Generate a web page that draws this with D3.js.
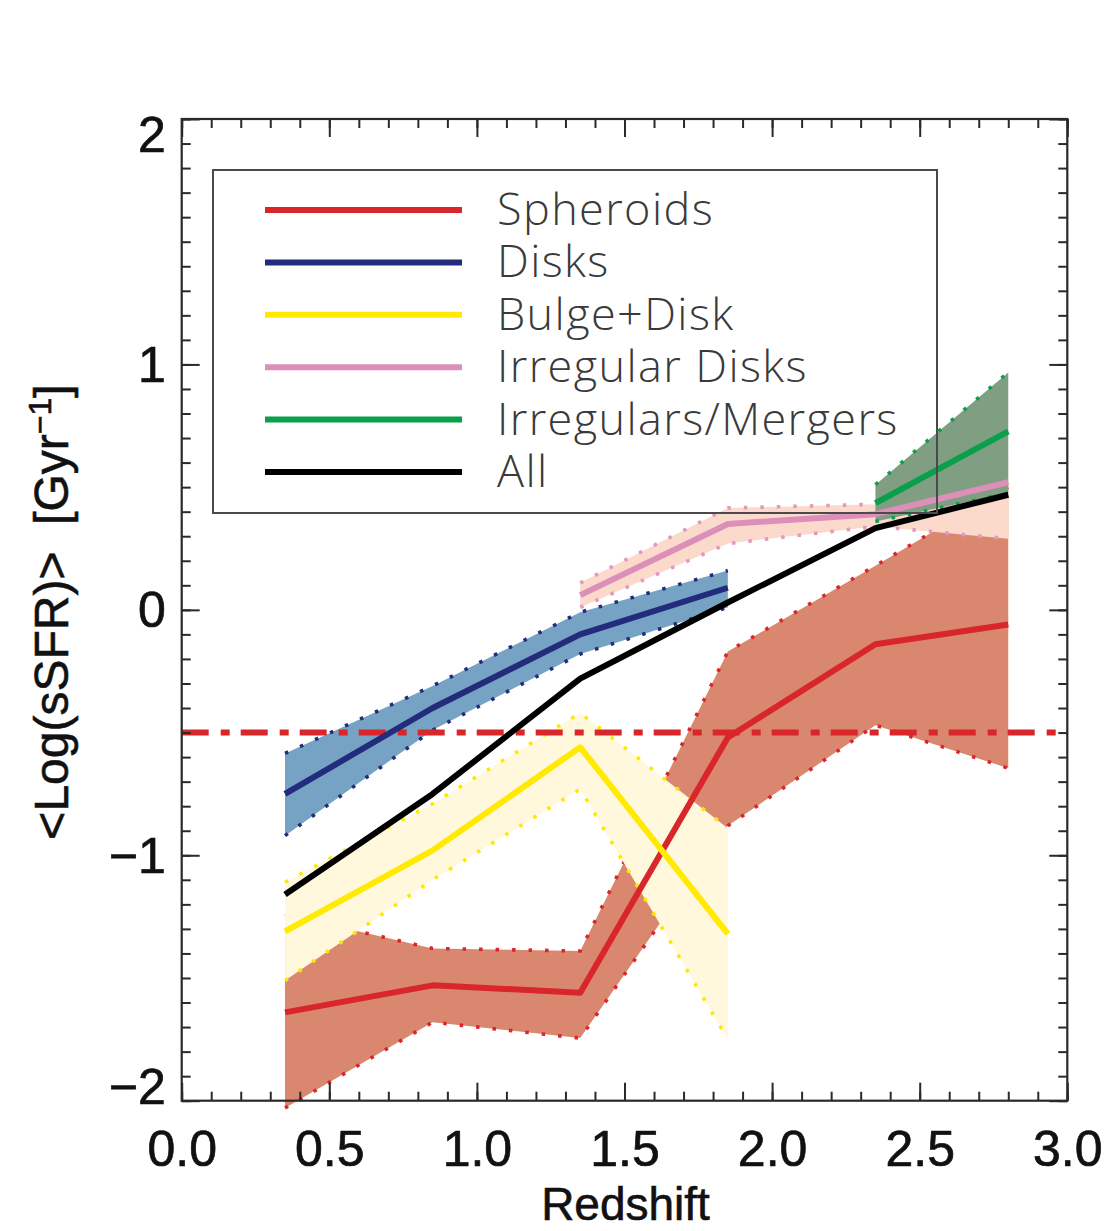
<!DOCTYPE html>
<html>
<head>
<meta charset="utf-8">
<script src="https://cdn.jsdelivr.net/npm/d3@7/dist/d3.min.js"></script>
<style>
  body { margin: 0; background: #ffffff; }
  svg { display: block; }
</style>
</head>
<body>
<svg id="chart" width="1107" height="1231"></svg>
<script>
// Redshift bins (bin centres) shared by all morphological classes
const redshift = [0.35, 0.85, 1.35, 1.85, 2.35, 2.8];

// Spheroids: mean <Log(sSFR)> and the upper / lower envelope
const spheroidsMean = [-1.64, -1.53, -1.56, -0.52, -0.14, -0.06];
const spheroidsHigh = [-1.24, -1.38, -1.39, -0.17, 0.18, 0.50];
const spheroidsLow  = [-2.03, -1.68, -1.745, -0.88, -0.47, -0.645];

// Disks (first four bins)
const disksMean = [-0.75, -0.40, -0.10, 0.09];
const disksHigh = [-0.585, -0.31, -0.01, 0.16];
const disksLow  = [-0.92, -0.49, -0.18, 0.01];

// Bulge+Disk (first four bins)
const bulgeDiskMean = [-1.31, -0.98, -0.56, -1.32];
const bulgeDiskHigh = [-1.11, -0.79, -0.42, -0.89];
const bulgeDiskLow  = [-1.51, -1.10, -0.73, -1.75];

// Irregular Disks (last four bins)
const irrDisksMean = [0.06, 0.35, 0.39, 0.52];
const irrDisksHigh = [0.11, 0.415, 0.43, 0.62];
const irrDisksLow  = [0.01, 0.27, 0.34, 0.29];

// Irregulars/Mergers (last two bins)
const mergersMean = [0.435, 0.727];
const mergersHigh = [0.51, 0.967];
const mergersLow  = [0.36, 0.475];

// Whole sample
const allMean = [-1.16, -0.75, -0.28, 0.03, 0.333, 0.469];

// Quiescence threshold drawn as a dash-dot line
const sfrThreshold = -0.5;

// Axis ticks and labels
const xTicks = [0, 0.5, 1, 1.5, 2, 2.5, 3];
const xTickLabels = ["0.0", "0.5", "1.0", "1.5", "2.0", "2.5", "3.0"];
const yTicks = [-2, -1, 0, 1, 2];
const yTickLabels = ["\u22122", "\u22121", "0", "1", "2"];

const legendNames = ["Spheroids", "Disks", "Bulge+Disk", "Irregular Disks", "Irregulars/Mergers", "All"];

// ---------------------------------------------------------------
const svg = d3.select("#chart");
const plot = { left: 181.7, right: 1067.3, top: 119, bottom: 1100.7 };

const x = d3.scaleLinear().domain([0, 3]).range([plot.left, plot.right]);
const y = d3.scaleLinear().domain([-2, 2]).range([plot.bottom, plot.top]);

const zip = (zs, a, b, c) => zs.map((z, i) => ({ z, mean: a[i], hi: b ? b[i] : null, lo: c ? c[i] : null }));

const series = [
  { name: legendNames[0], rows: zip(redshift, spheroidsMean, spheroidsHigh, spheroidsLow),
    line: "#d8262b", fill: "#da8770", dots: "#d8262b" },
  { name: legendNames[1], rows: zip(redshift.slice(0, 4), disksMean, disksHigh, disksLow),
    line: "#232c7c", fill: "#76a3c4", dots: "#232c7c" },
  { name: legendNames[2], rows: zip(redshift.slice(0, 4), bulgeDiskMean, bulgeDiskHigh, bulgeDiskLow),
    line: "#ffea00", fill: "#fff8dc", dots: "#ffe800" },
  { name: legendNames[3], rows: zip(redshift.slice(2), irrDisksMean, irrDisksHigh, irrDisksLow),
    line: "#dc8fb8", fill: "#fbdacb", dots: "#e09ac0" },
  { name: legendNames[4], rows: zip(redshift.slice(4), mergersMean, mergersHigh, mergersLow),
    line: "#0a9f4a", fill: "#7f9e82", dots: "#0a9f4a" },
  { name: legendNames[5], rows: zip(redshift, allMean),
    line: "#000000", fill: null, dots: null }
];

const area = d3.area().x(d => x(d.z)).y0(d => y(d.lo)).y1(d => y(d.hi));
const meanLine = d3.line().x(d => x(d.z)).y(d => y(d.mean));
const hiLine = d3.line().x(d => x(d.z)).y(d => y(d.hi));
const loLine = d3.line().x(d => x(d.z)).y(d => y(d.lo));

// Envelopes: filled band with dotted upper and lower edges, in legend order
const bands = svg.append("g").attr("class", "bands");
series.filter(s => s.fill).forEach(s => {
  const g = bands.append("g");
  g.append("path").datum(s.rows).attr("d", area).attr("fill", s.fill).attr("stroke", "none");
  [hiLine, loLine].forEach(gen => {
    g.append("path").datum(s.rows).attr("d", gen)
      .attr("fill", "none").attr("stroke", s.dots)
      .attr("stroke-width", 3.6).attr("stroke-dasharray", "3.5 13");
  });
});

// Threshold line
svg.append("line")
  .attr("x1", x(0)).attr("x2", x(3))
  .attr("y1", y(sfrThreshold)).attr("y2", y(sfrThreshold))
  .attr("stroke", "#d8262b").attr("stroke-width", 6)
  .attr("stroke-dasharray", "27 12 9 11");

// Mean relations
const lines = svg.append("g").attr("class", "means");
series.forEach(s => {
  lines.append("path").datum(s.rows).attr("d", meanLine)
    .attr("fill", "none").attr("stroke", s.line)
    .attr("stroke-width", 6).attr("stroke-linejoin", "round");
});

// Legend
const legend = svg.append("g").attr("class", "legend");
legend.append("rect")
  .attr("x", 213).attr("y", 170).attr("width", 724).attr("height", 343)
  .attr("fill", "none").attr("stroke", "#4a4a4a").attr("stroke-width", 2);
series.forEach((s, i) => {
  const ry = 210 + i * 52.4;
  legend.append("line").attr("x1", 265).attr("x2", 462).attr("y1", ry).attr("y2", ry)
    .attr("stroke", s.line).attr("stroke-width", 6);
  legend.append("text").attr("x", 497).attr("y", ry + 15)
    .attr("font-family", "'Open Sans', sans-serif").attr("font-weight", 300)
    .attr("font-size", 45).attr("letter-spacing", 1.4).attr("fill", "#3a3a3a")
    .text(s.name);
});

// Axes: major + minor ticks on all four sides, pointing inward
const axisColor = "#2a2a2a";
const fontTicks = "'Liberation Sans', Arial, sans-serif";
const minorX = d3.range(0, 3.0001, 0.1).map(v => +v.toFixed(2));
const minorY = d3.range(-2, 2.0001, 0.1).map(v => +v.toFixed(2));

function styleAxis(g) {
  g.select(".domain").remove();
  g.selectAll(".tick line").attr("stroke", axisColor).attr("stroke-width", 2);
}

const gxB = svg.append("g").attr("transform", `translate(0,${plot.bottom})`)
  .call(d3.axisBottom(x).tickValues(xTicks).tickSizeInner(-18).tickSizeOuter(0).tickPadding(30)
    .tickFormat((d, i) => xTickLabels[i]));
styleAxis(gxB);
gxB.selectAll(".tick text").attr("font-family", fontTicks).attr("font-size", 50)
  .attr("fill", "#111").attr("stroke", "#111").attr("stroke-width", 0.7);

svg.append("g").attr("transform", `translate(0,${plot.bottom})`)
  .call(d3.axisBottom(x).tickValues(minorX).tickSizeInner(-9).tickSizeOuter(0).tickFormat(""))
  .call(styleAxis);

svg.append("g").attr("transform", `translate(0,${plot.top})`)
  .call(d3.axisTop(x).tickValues(xTicks).tickSizeInner(-18).tickSizeOuter(0).tickFormat(""))
  .call(styleAxis);
svg.append("g").attr("transform", `translate(0,${plot.top})`)
  .call(d3.axisTop(x).tickValues(minorX).tickSizeInner(-9).tickSizeOuter(0).tickFormat(""))
  .call(styleAxis);

const gyL = svg.append("g").attr("transform", `translate(${plot.left},0)`)
  .call(d3.axisLeft(y).tickValues(yTicks).tickSizeInner(-18).tickSizeOuter(0).tickPadding(16)
    .tickFormat((d, i) => yTickLabels[i]));
styleAxis(gyL);
gyL.selectAll(".tick text").attr("font-family", fontTicks).attr("font-size", 50)
  .attr("fill", "#111").attr("stroke", "#111").attr("stroke-width", 0.7)
  .attr("transform", d => `translate(0,${d === 2 ? 16 : d === -2 ? -13 : 1})`);

svg.append("g").attr("transform", `translate(${plot.left},0)`)
  .call(d3.axisLeft(y).tickValues(minorY).tickSizeInner(-9).tickSizeOuter(0).tickFormat(""))
  .call(styleAxis);
svg.append("g").attr("transform", `translate(${plot.right},0)`)
  .call(d3.axisRight(y).tickValues(yTicks).tickSizeInner(-18).tickSizeOuter(0).tickFormat(""))
  .call(styleAxis);
svg.append("g").attr("transform", `translate(${plot.right},0)`)
  .call(d3.axisRight(y).tickValues(minorY).tickSizeInner(-9).tickSizeOuter(0).tickFormat(""))
  .call(styleAxis);

// Plot frame
svg.append("rect")
  .attr("x", plot.left).attr("y", plot.top)
  .attr("width", plot.right - plot.left).attr("height", plot.bottom - plot.top)
  .attr("fill", "none").attr("stroke", axisColor).attr("stroke-width", 2.2);

// Axis titles
svg.append("text")
  .attr("x", (plot.left + plot.right) / 2 + 1).attr("y", 1220)
  .attr("text-anchor", "middle")
  .attr("font-family", fontTicks).attr("font-size", 46)
  .attr("fill", "#111").attr("stroke", "#111").attr("stroke-width", 0.6)
  .text("Redshift");

const yTitle = svg.append("text")
  .attr("transform", "translate(68,612) rotate(-90)")
  .attr("text-anchor", "middle")
  .attr("font-family", fontTicks).attr("font-size", 48)
  .attr("fill", "#111").attr("stroke", "#111").attr("stroke-width", 0.6);
yTitle.append("tspan").text("<Log(sSFR)>\u00A0\u00A0[Gyr");
yTitle.append("tspan").attr("dy", -17).attr("font-size", 32).text("\u22121");
yTitle.append("tspan").attr("dy", 17).text("]");
</script>
</body>
</html>
